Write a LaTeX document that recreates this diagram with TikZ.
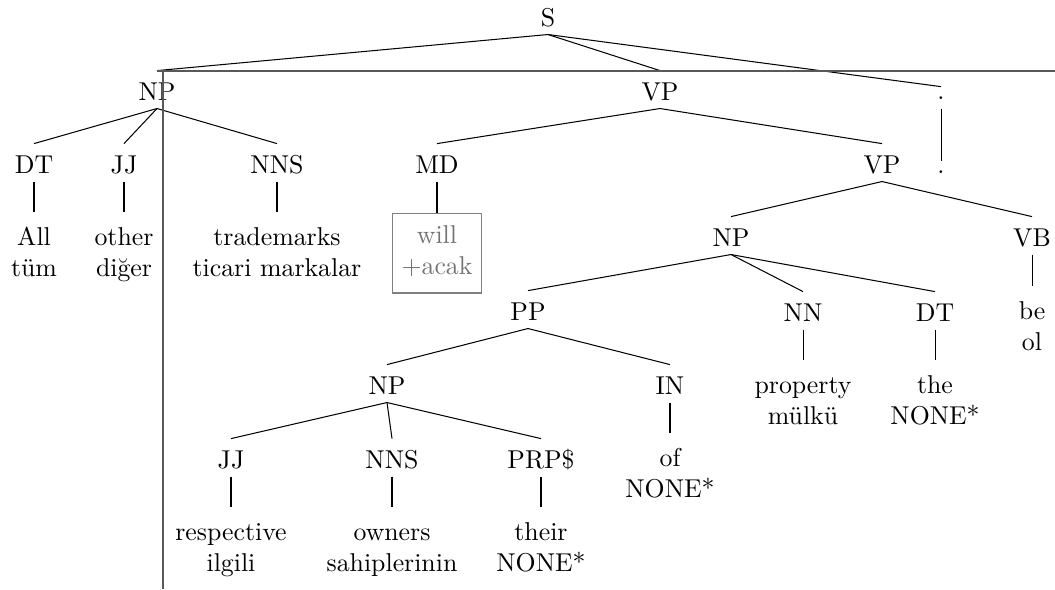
\documentclass[tikz,border=0pt]{standalone}
\usepackage{fontspec}
\begin{document}
\begin{tikzpicture}[x=0.3876pt,y=-0.3876pt,
  lbl/.style={anchor=base,inner sep=0pt,text height=11.2pt,text depth=3.1pt},
  dotlbl/.style={anchor=base,inner sep=0pt,text height=4.6pt,text depth=3.5pt},
  leaf/.style={anchor=north,inner xsep=0pt,inner ysep=4.4pt,align=center},
  wordbox/.style={anchor=north,draw=black!50,text=black!55,align=center,inner sep=3.4pt},
  branch/.style={draw=black,line width=0.4pt},
  rule/.style={draw=black!65,line width=0.4pt}]
\useasboundingbox (0,0) rectangle (1055,589);

% phrase and tag labels (positioned at their baselines)
\node[lbl] (s) at (548,26) {S};
\node[lbl] (np1) at (157,100) {NP};
\node[lbl] (vp1) at (660,100) {VP};
\node[dotlbl] (dot1) at (941,99) {.};
\node[lbl] (dt1) at (34,173) {DT};
\node[lbl] (jj1) at (124,173) {JJ};
\node[lbl] (nns1) at (277,173) {NNS};
\node[lbl] (md) at (437,173) {MD};
\node[lbl] (vp2) at (882,173) {VP};
\node[dotlbl] (dot2) at (941,173) {.};
\node[lbl] (np2) at (731,246) {NP};
\node[lbl] (vb) at (1032,246) {VB};
\node[lbl] (pp) at (528,320) {PP};
\node[lbl] (nn) at (803,321) {NN};
\node[lbl] (dt2) at (935,321) {DT};
\node[lbl] (np3) at (387,394) {NP};
\node[lbl] (in) at (670,394) {IN};
\node[lbl] (jj2) at (231,468) {JJ};
\node[lbl] (nns2) at (392,468) {NNS};
\node[lbl] (prp) at (541,468) {PRP\$};

% word pairs
\node[leaf] (w1) at (34,212) {\strut All\\tüm};
\node[leaf] (w2) at (124,212) {\strut other\\diğer};
\node[leaf] (w3) at (277,212) {\strut trademarks\\ticari markalar};
\node[wordbox] (w4) at (437,213) {\strut will\\+acak\strut};
\node[leaf] (w5) at (1032,286) {\strut be\\ol};
\node[leaf] (w6) at (803,360) {\strut property\\mülkü};
\node[leaf] (w7) at (935,360) {\strut the\\NONE*};
\node[leaf] (w8) at (670,433) {\strut of\\NONE*};
\node[leaf] (w9) at (231,507) {\strut respective\\ilgili};
\node[leaf] (w10) at (392,507) {\strut owners\\sahiplerinin};
\node[leaf] (w11) at (541,507) {\strut their\\NONE*};

% branches
\foreach \p/\c in {s/np1,s/vp1,s/dot1,np1/dt1,np1/jj1,np1/nns1,vp1/md,vp1/vp2,
  dot1/dot2,vp2/np2,vp2/vb,np2/pp,np2/nn,np2/dt2,pp/np3,pp/in,
  np3/jj2,np3/nns2,np3/prp,dt1/w1,jj1/w2,nns1/w3,md/w4,vb/w5,nn/w6,dt2/w7,
  in/w8,jj2/w9,nns2/w10,prp/w11}
  \draw[branch] (\p.south) -- (\c.north);

% ruled lines crossing the tree
\coordinate (h0) at (157,71);
\coordinate (h1) at (1055,71);
\coordinate (v0) at (163,71);
\coordinate (v1) at (163,589);
\draw[rule] (h0) -- (h1);
\draw[rule] (v0) -- (v1);
\end{tikzpicture}
\end{document}
